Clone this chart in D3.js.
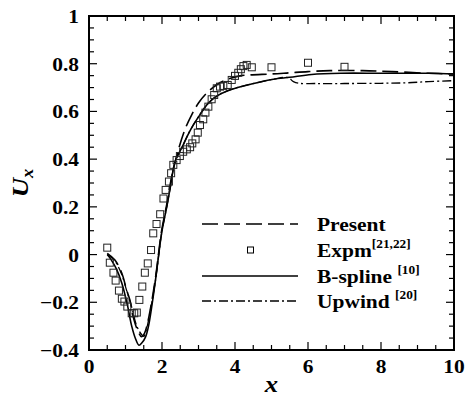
<!DOCTYPE html>
<html>
<head>
<meta charset="utf-8">
<script src="https://cdn.jsdelivr.net/npm/d3@7"></script>
<style>
  body { margin: 0; background: #fff; }
  text { font-family: "Liberation Serif", "Times New Roman", serif; font-weight: bold; fill: #000; }
</style>
</head>
<body>
<svg width="469" height="400"></svg>
<script>
// Present (dashed)
const presentX = [0.5, 0.71, 0.9, 1.03, 1.12, 1.21, 1.31, 1.44, 1.52, 1.6, 1.8, 1.99, 2.13, 2.27, 2.45, 2.63, 2.81, 3.0, 3.22, 3.5, 3.8, 4.1, 4.4, 5.0, 5.5, 6.0, 6.6, 7.5, 8.3, 9.3, 10]
const presentY = [0.005, -0.023, -0.078, -0.148, -0.19, -0.26, -0.309, -0.344, -0.33, -0.29, -0.12, 0.1, 0.21, 0.33, 0.44, 0.525, 0.585, 0.635, 0.676, 0.712, 0.735, 0.748, 0.753, 0.757, 0.762, 0.767, 0.771, 0.771, 0.767, 0.76, 0.757]

// B-spline [10] (solid)
const bsplineX = [0.5, 0.6, 0.75, 0.9, 1.05, 1.17, 1.28, 1.37, 1.45, 1.55, 1.63, 1.81, 1.99, 2.13, 2.22, 2.36, 2.55, 2.77, 2.99, 3.27, 3.54, 3.9, 4.45, 5.05, 5.5, 6.1, 6.9, 8.0, 9.3, 10]
const bsplineY = [0.0, -0.02, -0.06, -0.12, -0.21, -0.3, -0.355, -0.38, -0.37, -0.345, -0.3, -0.12, 0.09, 0.2, 0.275, 0.39, 0.45, 0.52, 0.575, 0.635, 0.668, 0.692, 0.715, 0.735, 0.743, 0.755, 0.76, 0.76, 0.76, 0.757]

// Upwind [20] (dash-dot)
const upwindX = [0.5, 0.7, 0.9, 1.03, 1.17, 1.31, 1.44, 1.5, 1.58, 1.65, 1.81, 1.99, 2.13, 2.22, 2.36, 2.55, 2.77, 2.99, 3.27, 3.54, 3.9, 4.45, 5.05, 5.45, 5.6, 5.75, 6.2, 7.0, 8.0, 8.7, 9.3, 10]
const upwindY = [0.0, -0.025, -0.085, -0.15, -0.22, -0.3, -0.335, -0.343, -0.31, -0.26, -0.12, 0.09, 0.2, 0.275, 0.39, 0.45, 0.52, 0.575, 0.635, 0.668, 0.692, 0.715, 0.735, 0.742, 0.725, 0.718, 0.717, 0.717, 0.718, 0.72, 0.725, 0.729]

// Expm [21,22] (squares)
const expmX = [0.5, 0.57, 0.67, 0.73, 0.82, 0.9, 0.97, 1.05, 1.17, 1.24, 1.31, 1.38, 1.46, 1.53, 1.61, 1.7, 1.76, 1.85, 1.95, 2.04, 2.1, 2.19, 2.25, 2.31, 2.4, 2.49, 2.58, 2.68, 2.77, 2.83, 2.92, 2.98, 3.04, 3.13, 3.19, 3.27, 3.36, 3.43, 3.5, 3.59, 3.68, 3.8, 3.91, 4.0, 4.09, 4.16, 4.23, 4.32, 4.46, 5.0, 6.0, 7.0]
const expmY = [0.029, -0.034, -0.076, -0.109, -0.151, -0.185, -0.197, -0.218, -0.246, -0.246, -0.243, -0.19, -0.134, -0.076, -0.037, 0.019, 0.089, 0.128, 0.169, 0.235, 0.271, 0.306, 0.341, 0.376, 0.396, 0.413, 0.431, 0.441, 0.45, 0.466, 0.483, 0.511, 0.543, 0.567, 0.595, 0.62, 0.651, 0.669, 0.697, 0.704, 0.707, 0.711, 0.732, 0.749, 0.762, 0.777, 0.79, 0.795, 0.785, 0.785, 0.804, 0.787]

const xTicks = [0, 2, 4, 6, 8, 10]
const yTicks = [-0.4, -0.2, 0, 0.2, 0.4, 0.6, 0.8, 1]

const svg = d3.select("svg")

const x = d3.scaleLinear().domain([0, 10]).range([89, 454])
const y = d3.scaleLinear().domain([-0.4, 1]).range([350, 16])

const yFmt = d => d === 0 || d === 1 ? String(d) : d3.format(".1f")(d)

// the original lettering is wider than Times, stretch it a bit
const stretch = 1.16
function label(parent, px, py, size, anchor) {
  return parent.append("text")
    .attr("transform", "translate(" + px + "," + py + ") scale(" + stretch + ",1)")
    .attr("font-size", size).attr("text-anchor", anchor)
}

// minor ticks
const xMinor = d3.range(0, 10.01, 0.5)
const yMinor = d3.range(-0.4, 1.001, 0.05)

const tickG = svg.append("g").attr("stroke", "#000").attr("stroke-width", 1.2)
xMinor.forEach((v, i) => {
  const len = (i % 4 === 0) ? 8 : 5
  tickG.append("line").attr("x1", x(v)).attr("x2", x(v)).attr("y1", y(-0.4)).attr("y2", y(-0.4) - len)
  tickG.append("line").attr("x1", x(v)).attr("x2", x(v)).attr("y1", y(1)).attr("y2", y(1) + len)
})
yMinor.forEach((v, i) => {
  const len = (i % 4 === 0) ? 8 : 5
  tickG.append("line").attr("y1", y(v)).attr("y2", y(v)).attr("x1", x(0)).attr("x2", x(0) + len)
  tickG.append("line").attr("y1", y(v)).attr("y2", y(v)).attr("x1", x(10)).attr("x2", x(10) - len)
})

// tick labels
const tl = svg.append("g")
xTicks.forEach(d => label(tl, x(d), 373, 18.5, "middle").text(d))
yTicks.forEach(d => label(tl, 79, y(d) + 7, 18.5, "end").text(yFmt(d)))

// curves
const line = (xs, ys) => d3.line()
  .x(i => x(xs[i])).y(i => y(ys[i]))
  .curve(d3.curveCatmullRom.alpha(0.5))(d3.range(xs.length))

svg.append("path").attr("d", line(bsplineX, bsplineY))
  .attr("fill", "none").attr("stroke", "#000").attr("stroke-width", 1.6)
svg.append("path").attr("d", line(upwindX, upwindY))
  .attr("fill", "none").attr("stroke", "#000").attr("stroke-width", 1.3)
  .attr("stroke-dasharray", "9,3,2,3")
svg.append("path").attr("d", line(presentX, presentY))
  .attr("fill", "none").attr("stroke", "#000").attr("stroke-width", 1.6)
  .attr("stroke-dasharray", "16,6")

svg.append("g").selectAll("rect").data(d3.range(expmX.length)).join("rect")
  .attr("x", i => x(expmX[i]) - 3.5).attr("y", i => y(expmY[i]) - 3.5)
  .attr("width", 7).attr("height", 7)
  .attr("fill", "none").attr("stroke", "#222").attr("stroke-width", 1)

// frame
svg.append("rect").attr("x", x(0)).attr("y", y(1))
  .attr("width", x(10) - x(0)).attr("height", y(-0.4) - y(1))
  .attr("fill", "none").attr("stroke", "#000").attr("stroke-width", 2)

// legend
const legendNames = ["Present", "Expm", "B-spline ", "Upwind "]
const legendRefs = ["", "[21,22]", "[10]", "[20]"]
const legendRowY = [224, 250, 276, 301]
const lg = svg.append("g")
lg.append("line").attr("x1", 202).attr("x2", 298).attr("y1", legendRowY[0]).attr("y2", legendRowY[0])
  .attr("stroke", "#000").attr("stroke-width", 1.6).attr("stroke-dasharray", "16,6")
lg.append("rect").attr("x", 247.5).attr("y", legendRowY[1] - 3).attr("width", 6).attr("height", 6)
  .attr("fill", "none").attr("stroke", "#000").attr("stroke-width", 1)
lg.append("line").attr("x1", 202).attr("x2", 298).attr("y1", legendRowY[2]).attr("y2", legendRowY[2])
  .attr("stroke", "#000").attr("stroke-width", 1.6)
lg.append("line").attr("x1", 202).attr("x2", 298).attr("y1", legendRowY[3]).attr("y2", legendRowY[3])
  .attr("stroke", "#000").attr("stroke-width", 1.3).attr("stroke-dasharray", "9,3,2,3")

legendNames.forEach((name, i) => {
  const t = label(lg, 317, legendRowY[i] + 7, 18.5, "start")
  t.append("tspan").text(name)
  if (legendRefs[i]) t.append("tspan").attr("font-size", 11.5).attr("dy", -9).text(legendRefs[i])
})

// axis titles
label(svg, x(5), 392, 23, "middle").attr("font-style", "italic").text("x")

const yt = svg.append("text").attr("transform", "translate(28," + y(0.3) + ") rotate(-90) scale(" + stretch + ",1)")
  .attr("text-anchor", "middle").attr("font-size", 23).attr("font-style", "italic")
yt.append("tspan").text("U")
yt.append("tspan").attr("font-size", 16).attr("dy", 5).text("x")
</script>
</body>
</html>
